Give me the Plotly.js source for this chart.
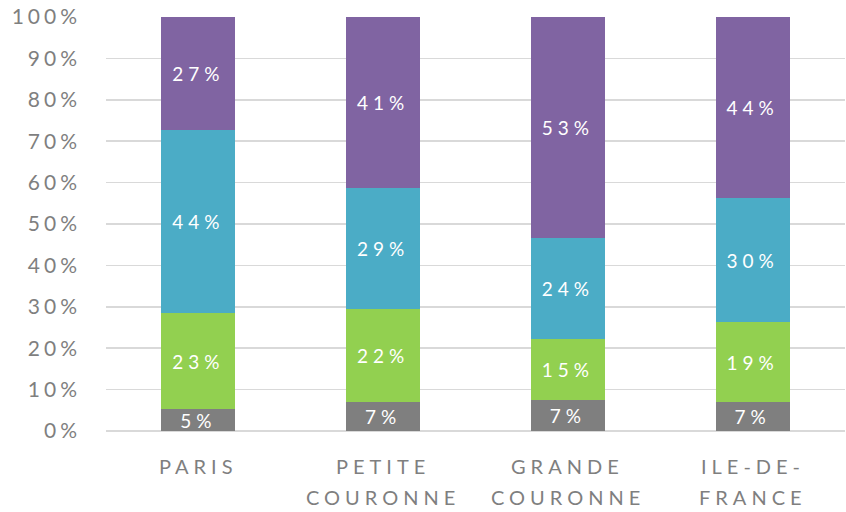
<!DOCTYPE html>
<html>
<head>
<meta charset="utf-8">
<script src="https://cdn.plot.ly/plotly-3.0.1.min.js"></script>
<style>
  html, body { margin: 0; padding: 0; background: #fff; }
  #chart { width: 846px; height: 512px; }
  .ytick text { letter-spacing: 4px; }
  .annotation-text { letter-spacing: 5px; }
  text.bartext { letter-spacing: 5px; }
</style>
</head>
<body>
<div id="chart"></div>
<script>
const categories = ['PARIS', 'PETITE COURONNE', 'GRANDE COURONNE', 'ILE-DE-FRANCE'];
const labelLine1 = ['PARIS', 'PETITE', 'GRANDE', 'ILE-DE-'];
const labelLine2 = ['', 'COURONNE', 'COURONNE', 'FRANCE'];

const grayValues   = [5.2, 7.1, 7.4, 6.9];
const greenValues  = [23.4, 22.4, 14.9, 19.4];
const blueValues   = [44.0, 29.1, 24.4, 29.9];
const purpleValues = [27.4, 41.4, 53.3, 43.8];

const seriesValues = [grayValues, greenValues, blueValues, purpleValues];
const seriesColors = ['#7f7f7f', '#92d050', '#4bacc6', '#8064a2'];
const yTickValues = [0, 10, 20, 30, 40, 50, 60, 70, 80, 90, 100];

const FONT = 'Lato, "Open Sans", sans-serif';

const traces = seriesValues.map((vals, i) => ({
  type: 'bar',
  x: categories,
  y: vals,
  marker: { color: seriesColors[i], line: { width: 0 } },
  text: vals.map(v => Math.round(v) + '%'),
  texttemplate: '%{text}',
  textposition: 'inside',
  insidetextanchor: 'middle',
  constraintext: 'none',
  cliponaxis: false,
  textfont: { color: '#ffffff', size: 19, family: FONT },
  hoverinfo: 'skip',
  showlegend: false
}));

const annotations = [];
categories.forEach((c, i) => {
  annotations.push({
    x: c, y: 0, xref: 'x', yref: 'y',
    text: labelLine1[i], showarrow: false,
    yanchor: 'middle', xanchor: 'center', yshift: -35,
    font: { family: FONT, size: 20, color: '#7f7f7f' }
  });
  if (labelLine2[i]) {
    annotations.push({
      x: c, y: 0, xref: 'x', yref: 'y',
      text: labelLine2[i], showarrow: false,
      yanchor: 'middle', xanchor: 'center', yshift: -66,
      font: { family: FONT, size: 20, color: '#7f7f7f' }
    });
  }
});

const layout = {
  width: 846, height: 512,
  margin: { l: 106, r: 1, t: 17, b: 81 },
  paper_bgcolor: '#ffffff',
  plot_bgcolor: '#ffffff',
  barmode: 'stack',
  bargap: 0.6,
  xaxis: {
    type: 'category',
    showticklabels: false,
    showgrid: false,
    zeroline: false,
    showline: false,
    ticks: ''
  },
  yaxis: {
    range: [0, 100],
    tickvals: yTickValues,
    ticktext: yTickValues.map(v => v + '%'),
    showgrid: true,
    gridcolor: '#d9d9d9',
    gridwidth: 1.5,
    zeroline: true,
    zerolinecolor: '#d9d9d9',
    zerolinewidth: 1.5,
    showline: false,
    ticks: '',
    ticklabelstandoff: 24,
    tickfont: { family: FONT, size: 21, color: '#7f7f7f' },
    fixedrange: true
  },
  annotations: annotations,
  showlegend: false
};

Plotly.newPlot('chart', traces, layout, { displayModeBar: false, staticPlot: true });
</script>
</body>
</html>
